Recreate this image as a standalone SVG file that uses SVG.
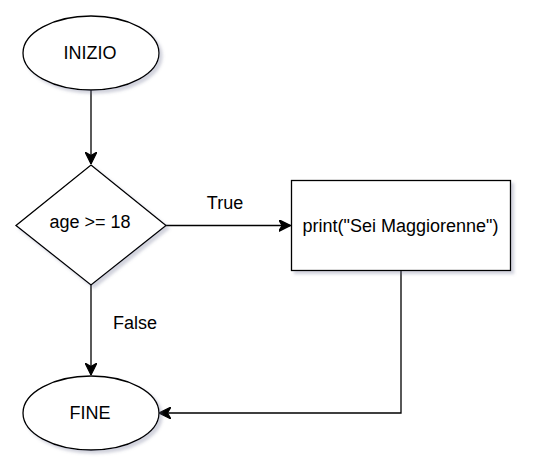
<svg xmlns="http://www.w3.org/2000/svg" width="536" height="476" viewBox="0 0 536 476">
  <style>
    .shape { fill: #ffffff; stroke: #000000; stroke-width: 1.3; filter: url(#shadow); }
    .edge { fill: none; stroke: #000000; stroke-width: 1.3; marker-end: url(#arrow); }
    .lbl { font-family: "Liberation Sans", Arial, sans-serif; font-size: 18px; fill: #000000; text-anchor: middle; }
  </style>
  <defs>
    <filter id="shadow" x="-20%" y="-20%" width="150%" height="150%">
      <feDropShadow dx="3" dy="3" stdDeviation="1.8" flood-color="#6a7090" flood-opacity="0.3"/>
    </filter>
    <marker id="arrow" markerUnits="userSpaceOnUse" markerWidth="12" markerHeight="12" refX="10" refY="5" orient="auto" viewBox="0 0 10 10">
      <path d="M0,0 L10,5 L0,10 L3,5 z" fill="#000000" stroke="#000000" stroke-width="1"/>
    </marker>
  </defs>
  <rect width="536" height="476" fill="#ffffff"/>
  <g id="connectors">
    <path class="edge" d="M91,90 L91,164"/>
    <path class="edge" d="M166,225.5 L290.5,225.5"/>
    <path class="edge" d="M91,285 L91,375"/>
    <path class="edge" d="M401,270 L401,413 L159,413"/>
    <text class="lbl" x="225" y="209">True</text>
    <text class="lbl" x="135" y="329">False</text>
  </g>
  <g id="inizio">
    <ellipse class="shape" cx="91" cy="53" rx="68" ry="37"/>
    <text class="lbl" x="90" y="59">INIZIO</text>
  </g>
  <g id="decision">
    <polygon class="shape" points="91,165 166,225.5 91,285 16,225.5"/>
    <text class="lbl" x="90" y="228">age &gt;= 18</text>
  </g>
  <g id="print">
    <rect class="shape" x="291.5" y="180.5" width="219" height="90"/>
    <text class="lbl" x="400.5" y="232">print("Sei Maggiorenne")</text>
  </g>
  <g id="fine">
    <ellipse class="shape" cx="91" cy="413" rx="68" ry="37"/>
    <text class="lbl" x="90" y="419">FINE</text>
  </g>
</svg>
